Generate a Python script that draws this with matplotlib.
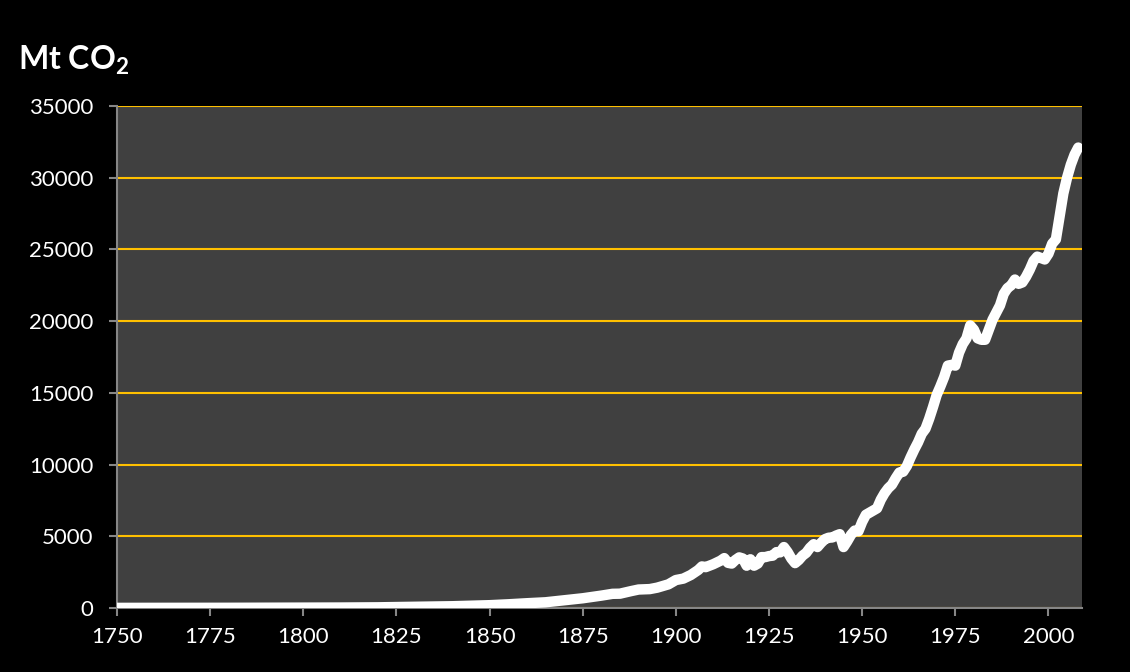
import matplotlib.pyplot as plt
from matplotlib.ticker import MultipleLocator

# global fossil CO2 emissions, Mt CO2
years = [1750, 1760, 1770, 1780, 1790, 1800, 1810, 1820, 1830, 1840,
         1850, 1855, 1860, 1865, 1870, 1875, 1880, 1883, 1885, 1888,
         1890, 1893, 1895, 1898, 1900, 1902, 1904, 1906, 1907, 1908,
         1910, 1912, 1913, 1914, 1915, 1916, 1917, 1918, 1919, 1920,
         1921, 1922, 1923, 1924, 1925, 1926, 1927, 1928, 1929, 1930,
         1931, 1932, 1933, 1934, 1935, 1936, 1937, 1938, 1939, 1940,
         1941, 1942, 1943, 1944, 1945, 1946, 1947, 1948, 1949, 1950,
         1951, 1952, 1953, 1954, 1955, 1956, 1957, 1958, 1959, 1960,
         1961, 1962, 1963, 1964, 1965, 1966, 1967, 1968, 1969, 1970,
         1971, 1972, 1973, 1974, 1975, 1976, 1977, 1978, 1979, 1980,
         1981, 1982, 1983, 1984, 1985, 1986, 1987, 1988, 1989, 1990,
         1991, 1992, 1993, 1994, 1995, 1996, 1997, 1998, 1999, 2000,
         2001, 2002, 2003, 2004, 2005, 2006, 2007, 2008]
emissions = [10, 11, 13, 16, 22, 29, 35, 50, 90, 125,
             198, 260, 334, 400, 539, 680, 865, 990, 1000, 1180,
             1290, 1320, 1420, 1650, 1950, 2050, 2300, 2650, 2900, 2850,
             3050, 3300, 3480, 3150, 3100, 3350, 3530, 3450, 2950, 3400,
             2950, 3100, 3550, 3550, 3620, 3650, 3900, 3880, 4250, 3900,
             3450, 3130, 3350, 3650, 3850, 4200, 4450, 4250, 4550, 4800,
             4900, 4920, 5050, 5150, 4250, 4650, 5100, 5400, 5350, 6000,
             6500, 6650, 6800, 6950, 7550, 8000, 8350, 8600, 9050, 9450,
             9500, 9900, 10500, 11050, 11550, 12150, 12500, 13200, 14000, 14850,
             15450, 16100, 16900, 16950, 16900, 17800, 18400, 18800, 19700, 19400,
             18800, 18700, 18700, 19400, 20100, 20600, 21100, 21900, 22300, 22500,
             22900, 22600, 22700, 23100, 23600, 24200, 24500, 24400, 24300, 24700,
             25400, 25700, 27300, 28900, 30000, 30900, 31600, 32100]

plt.rcParams['font.family'] = ['Lato', 'DejaVu Sans']
plt.rcParams['mathtext.fontset'] = 'custom'
plt.rcParams['mathtext.rm'] = 'Lato'
plt.rcParams['mathtext.bf'] = 'Lato:bold'

fig = plt.figure(figsize=(11.3, 6.72), dpi=100, facecolor='black')
ax = fig.add_axes([0.1035, 0.0952, 0.854, 0.7471], facecolor='#404040')

ax.plot(years, emissions, color='white', lw=7.5, solid_capstyle='round',
        solid_joinstyle='round', zorder=3)

ax.set_xlim(1750, 2009)
ax.set_ylim(0, 35000)
ax.xaxis.set_major_locator(MultipleLocator(25))
ax.yaxis.set_major_locator(MultipleLocator(5000))
ax.grid(axis='y', color='#FFC000', lw=1.5, zorder=1)
ax.set_axisbelow(True)

for side in ['top', 'right']:
    ax.spines[side].set_visible(False)
for side in ['left', 'bottom']:
    ax.spines[side].set_color('#868686')
    ax.spines[side].set_linewidth(1.5)

ax.tick_params(colors='#868686', labelcolor='white', labelsize=16,
               length=6, width=1.5)
ax.tick_params(axis='y', pad=11)
ax.tick_params(axis='x', pad=8)

fig.text(0.016, 0.91, r'Mt CO$_\mathbf{2}$', color='white', fontsize=23,
         fontweight='bold', va='center', ha='left')

fig.savefig('out.png', dpi=100, facecolor='black')
